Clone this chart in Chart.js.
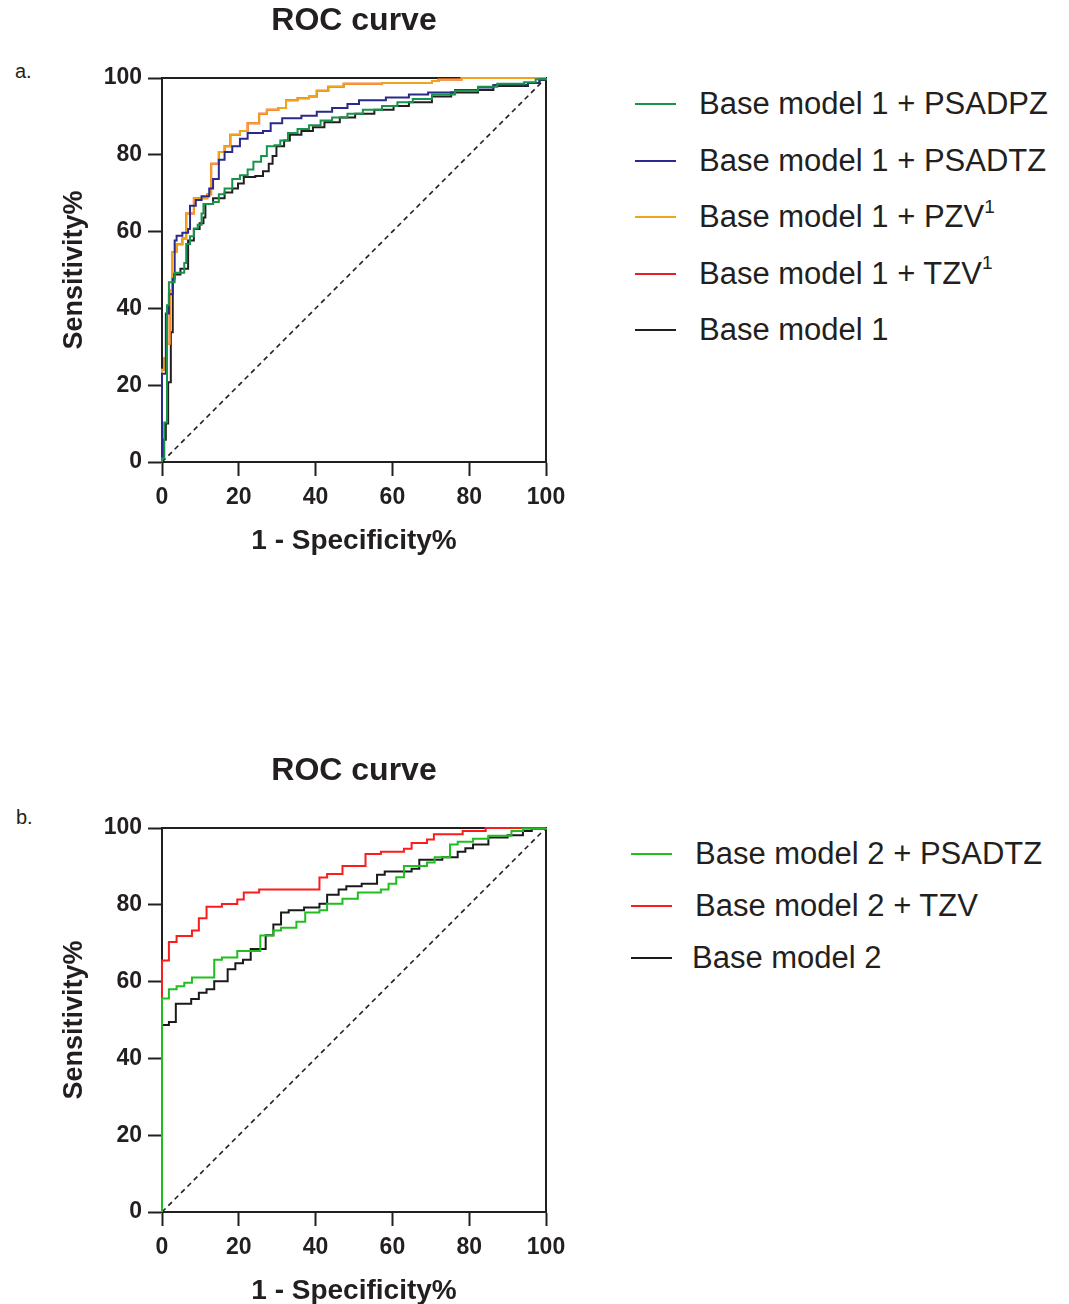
<!DOCTYPE html>
<html>
<head>
<meta charset="utf-8">
<script src="https://cdn.jsdelivr.net/npm/chart.js@4.4.1/dist/chart.umd.min.js"></script>
<style>
  body { margin: 0; background: #fff; width: 1069px; height: 1304px; overflow: hidden; position: relative;
         font-family: "Liberation Sans", Arial, sans-serif; color: #231f20; }
  canvas { position: absolute; left: 0; }
  .tag { position: absolute; font-size: 20px; }
  .legend { position: absolute; font-size: 31px; }
  .legend div { position: absolute; white-space: nowrap; height: 0; }
  .legend span.ln { position: absolute; top: -1px; width: 41px; height: 2px; }
  .legend span.tx { position: absolute; top: -19px; line-height: 38px; }
  .legend sup { font-size: 19px; vertical-align: baseline; position: relative; top: -0.75em; line-height: 0; }
</style>
</head>
<body>
<div class="tag" style="left:15px; top:60px;">a.</div>
<div class="tag" style="left:16px; top:806px;">b.</div>
<canvas id="rocA" width="600" height="590" style="top:0;"></canvas>
<canvas id="rocB" width="600" height="590" style="top:750px;"></canvas>

<div class="legend" id="legA" style="left:635px; top:0;"></div>
<div class="legend" id="legB" style="left:631px; top:0;"></div>

<script>
// values: [1 - specificity %, sensitivity %]
// panel a
const psadpz1 = [[0,0],[0,1],[0.6,10.3],[1.3,40.8],[1.8,46.8],[3.3,49.3],[5.8,51.8],[6.3,56.8],[7.3,58.8],[8.3,60.8],
  [9.3,61.8],[10.3,64.7],[10.8,67.2],[13.3,67.7],[14.8,69.7],[16.3,71.2],[18.3,73.7],[20.3,74.7],[22.3,76.2],[23.8,78.2],
  [25.8,79.7],[27.3,82.2],[29.3,82.5],[30.8,83.7],[32.8,85.7],[35.3,86.7],[38.3,87.7],[41.3,88.9],[44.3,89.7],[48.3,90.7],
  [52.3,91.7],[57.3,92.7],[61.3,93.7],[65.3,94.5],[70.3,95.7],[76.3,96.7],[82.3,97.7],[87.3,98.5],[94.3,98.9],[97.3,99.7],[100,100]];
const psadtz1 = [[0,0],[0,23],[1,38.7],[1.8,43.7],[2.8,47.7],[3.3,57.7],[3.8,58.9],[5.3,59.7],[6.8,60.7],[7.3,66.7],
  [8.8,68.2],[10.3,69.2],[12.3,71.2],[13.3,73.7],[14.8,78.7],[16.3,80.7],[18.3,82.2],[20.3,84.2],[22.3,85.7],[26.3,86.2],
  [28.3,88.2],[31.3,89.5],[36.3,90.2],[40.3,91.2],[44.3,92.2],[48.3,93.2],[51.3,94.2],[58.3,94.9],[64.3,95.7],[69.3,96.2],
  [76.3,96.9],[82.3,97.5],[86.3,98.2],[95.3,98.7],[98.3,99.7],[100,100]];
const pzv1 = [[0,0],[0,24],[0.6,27],[1.3,30.8],[2,44.8],[2.6,54.7],[3.8,56.7],[5.3,58.2],[6.3,64.7],[8.3,68.7],
  [11.8,69.7],[12.8,77.7],[14.8,80.7],[16.3,82.2],[17.8,85.2],[20.3,86.2],[22.3,88.2],[25.3,90.7],[27.3,91.7],[30.3,92.2],
  [32.3,94.2],[35.3,94.7],[38.3,95.2],[40.3,96.7],[43.3,97.7],[47.3,98.5],[57.3,98.7],[70.3,99.2],[72,99.6],[78,100],[100,100]];
const tzv1 = pzv1; // not visible in the figure: lies under the PZV curve
const base1 = [[0,0],[0,1],[0.5,5.8],[1,10],[1.6,20.8],[2.3,33.8],[2.8,48.8],[4.8,50.3],[6.8,57.7],[8.3,60.7],
  [9.8,62.2],[10.8,63.7],[11.3,67.2],[13.3,68.7],[16.3,70.2],[18.3,71.2],[19.8,72.5],[21.3,74.2],[24.3,74.5],[26.3,75.7],
  [27.8,77.7],[28.8,79.7],[29.8,82.2],[31.8,83.7],[33.3,85.2],[36.3,86.2],[39.3,87.2],[42.3,88.5],[46.3,89.7],[50.3,90.7],
  [55.3,91.7],[60.3,92.7],[64.3,93.7],[70.3,95.2],[75.3,96.2],[82.3,96.9],[86.3,97.9],[95.3,98.7],[98.3,99.5],[100,100]];

// panel b
const psadtz2 = [[0,0],[0,55.6],[1.8,58],[3.8,58.8],[5.8,59.7],[7.8,61.1],[13.6,65.7],[15.6,66.3],[19.6,68],[25.6,72],
  [29,73.3],[31,74],[35,75.6],[37.3,78],[41,78.6],[43,80.3],[47,81.6],[51,83.2],[57,84],[59,85.5],
  [61,87.2],[63,90.1],[69,91],[71,92.4],[75,95.7],[77,96.4],[81,97.2],[85,98],[91,99.2],[94,99.8],[100,100]];
const tzv2 = [[0,0],[0,65.5],[1.8,70.3],[3.8,71.9],[7.8,73.3],[9.6,76.5],[11.6,79.5],[15.6,80.2],[19.6,81.4],[21.3,83.2],
  [25.3,84],[41,87.1],[43,88],[47,90.1],[53,93.2],[57,93.8],[63,94.6],[65,96.1],[69,97],[70.8,98.4],
  [78.3,99.2],[84.3,100],[100,100]];
const base2 = [[0,0],[0,48.7],[1.8,49.5],[3.6,54.2],[7.6,55.5],[9.6,57.1],[11.6,58],[13.6,60.1],[17.1,63.2],[19.1,64.8],
  [21.1,65.7],[23.1,68.5],[27,72.1],[29,74.9],[31,78],[33,78.6],[37,79.3],[41,80.3],[43,82.6],[46,84],
  [48,84.8],[52,85.5],[56,87.8],[58,88.7],[65,89.4],[67,91.7],[73,92.4],[77,93.8],[79,94.7],[81,95.7],
  [85,97.5],[90,98.1],[94,99.2],[96.3,99.8],[100,100]];

const chance = [[0,0],[100,100]];
const axisTicks = [0, 20, 40, 60, 80, 100];

const seriesA = [
  { label: 'Base model 1 + PSADPZ', sup: '', data: psadpz1, color: '#16944a' },
  { label: 'Base model 1 + PSADTZ', sup: '', data: psadtz1, color: '#2a2a8c' },
  { label: 'Base model 1 + PZV', sup: '1', data: pzv1, color: '#f4a31c' },
  { label: 'Base model 1 + TZV', sup: '1', data: tzv1, color: '#e3202a' },
  { label: 'Base model 1', sup: '', data: base1, color: '#231f20' }
];
const seriesB = [
  { label: 'Base model 2 + PSADTZ', sup: '', data: psadtz2, color: '#1fbf1f' },
  { label: 'Base model 2 + TZV', sup: '', data: tzv2, color: '#fb1c1c' },
  { label: 'Base model 2', sup: '', data: base2, color: '#1a1a1a' }
];

const FONT = '"Liberation Sans", Arial, sans-serif';
const INK = '#231f20';

// box round the plot and the centred title
const frame = {
  id: 'frame',
  beforeDatasetsDraw(chart) {
    const { ctx, chartArea: a } = chart;
    ctx.save();
    ctx.strokeStyle = INK;
    ctx.lineWidth = 2;
    ctx.strokeRect(a.left, a.top, a.right - a.left, a.bottom - a.top);
    ctx.restore();
  },
  afterDraw(chart, args, opts) {
    const { ctx, chartArea: a } = chart;
    ctx.save();
    ctx.fillStyle = INK;
    ctx.font = 'bold 32px ' + FONT;
    ctx.textAlign = 'center';
    ctx.textBaseline = 'middle';
    ctx.fillText(opts.text, (a.left + a.right) / 2, 21);
    ctx.restore();
  }
};

function makeRoc(id, series) {
  const datasets = series.map(s => ({
    label: s.label,
    data: s.data.map(p => ({ x: p[0], y: p[1] })),
    borderColor: s.color,
    borderWidth: 2,
    stepped: 'before',
    pointRadius: 0,
    clip: 4
  }));
  datasets.push({
    label: 'chance',
    data: chance.map(p => ({ x: p[0], y: p[1] })),
    borderColor: INK,
    borderWidth: 1.6,
    borderDash: [5, 4],
    pointRadius: 0
  });

  return new Chart(document.getElementById(id), {
    type: 'line',
    data: { datasets: datasets },
    plugins: [frame],
    options: {
      responsive: false,
      animation: false,
      layout: { padding: { left: 40, right: 54, top: 78, bottom: 28 } },
      plugins: {
        legend: { display: false },
        tooltip: { enabled: false },
        frame: { text: 'ROC curve' }
      },
      scales: {
        x: {
          type: 'linear', min: 0, max: 100,
          afterBuildTicks: s => { s.ticks = axisTicks.map(v => ({ value: v })); },
          afterFit: s => { s.height = 100; },
          grid: { drawOnChartArea: false, tickLength: 14, tickWidth: 2, tickColor: INK },
          border: { color: INK, width: 2 },
          ticks: { color: INK, padding: 8, maxRotation: 0, font: { family: FONT, size: 23, weight: 'bold' } },
          title: { display: true, text: '1 - Specificity%', color: INK, padding: { top: 0, bottom: 4 },
                   font: { family: FONT, size: 28, weight: 'bold' } }
        },
        y: {
          type: 'linear', min: 0, max: 100,
          afterBuildTicks: s => { s.ticks = axisTicks.map(v => ({ value: v })); },
          afterFit: s => { s.width = 122; },
          grid: { drawOnChartArea: false, tickLength: 14, tickWidth: 2, tickColor: INK },
          border: { color: INK, width: 2 },
          ticks: { color: INK, padding: 6, font: { family: FONT, size: 23, weight: 'bold' } },
          title: { display: true, text: 'Sensitivity%', color: INK, padding: { top: 18, bottom: 0 },
                   font: { family: FONT, size: 27, weight: 'bold' } }
        }
      }
    }
  });
}

function makeLegend(id, series, firstY, gap, textLeft) {
  const box = document.getElementById(id);
  series.forEach((s, i) => {
    const row = document.createElement('div');
    row.style.top = (firstY + i * gap) + 'px';
    row.innerHTML = '<span class="ln" style="background:' + s.color + '"></span>' +
      '<span class="tx" style="left:' + (textLeft[i] !== undefined ? textLeft[i] : textLeft[0]) + 'px">' +
      s.label + (s.sup ? '<sup>' + s.sup + '</sup>' : '') + '</span>';
    box.appendChild(row);
  });
}

makeRoc('rocA', seriesA);
makeRoc('rocB', seriesB);
makeLegend('legA', seriesA, 104, 56.5, [64]);
makeLegend('legB', seriesB, 854, 52, [64, 64, 61]);
</script>
</body>
</html>
